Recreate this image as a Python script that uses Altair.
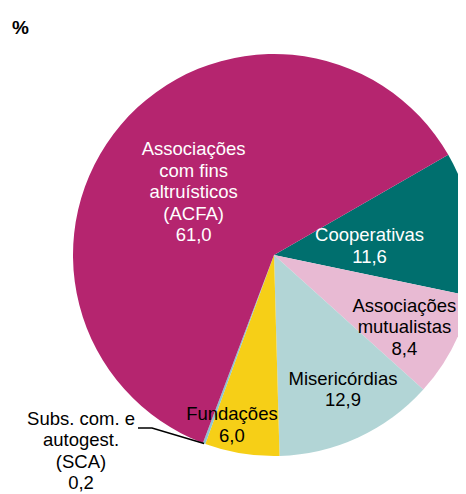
import math
import altair as alt
import pandas as pd

# ---- data ----
categories = ["Cooperativas", "Associações mutualistas", "Misericórdias",
              "Fundações", "Subs. com. e autogest. (SCA)",
              "Associações com fins altruísticos (ACFA)"]
values = [11.6, 8.4, 12.9, 6.0, 0.2, 61.0]
value_labels = ["11,6", "8,4", "12,9", "6,0", "0,2", "61,0"]
label_names = ["Cooperativas", "Associações\nmutualistas", "Misericórdias",
               "Fundações", "Subs. com. e\nautogest.\n(SCA)",
               "Associações\ncom fins\naltruísticos\n(ACFA)"]
colors = ["#006f6e", "#e8bad3", "#b2d5d6", "#f6cf17", "#8cc3d0", "#b5256f"]
text_colors = ["white", "black", "black", "black", "black", "white"]

# ---- layout ----
CX, CY, R = 266, 247, 201          # pie centre / radius in view coordinates
START = math.radians(60.1)          # start angle (clockwise from 12 o'clock)
LH = 21.5                           # label line height
label_angle_offset_deg = [3.6, 2.0, -2.4, 4.7, 24.2, -2.4]
label_radius = [96, 149, 151, 175, 275, 102]

total = sum(values)
labels_txt = [f"{n}\n{v}" for n, v in zip(label_names, value_labels)]
lx, ly = [], []
cum = 0.0
for v, off, r, t in zip(values, label_angle_offset_deg, label_radius, labels_txt):
    mid = cum + v / 2
    a = START + mid / total * 2 * math.pi + math.radians(off)
    nlines = t.count("\n") + 1
    lx.append(CX + r * math.sin(a))
    ly.append(CY - r * math.cos(a) - (nlines - 1) * LH / 2)
    cum += v

df = pd.DataFrame({
    "cat": categories,
    "value": values,
    "order": list(range(len(values))),
    "label": labels_txt,
    "tcolor": text_colors,
    "lx": lx,
    "ly": ly,
})

pie = alt.Chart(df).mark_arc(radius=R).encode(
    theta=alt.Theta("value:Q", stack=True,
                    scale=alt.Scale(range=[START, START + 2 * math.pi])),
    order=alt.Order("order:Q"),
    color=alt.Color("cat:N", scale=alt.Scale(domain=categories, range=colors),
                    legend=None),
    x=alt.value(CX), y=alt.value(CY),
)

labels = alt.Chart(df).mark_text(
    font="Liberation Sans", fontSize=18.5, lineBreak="\n", lineHeight=LH,
    align="center", baseline="middle",
).encode(
    x=alt.X("lx:Q", scale=None),
    y=alt.Y("ly:Q", scale=None),
    text="label:N",
    color=alt.Color("tcolor:N", scale=None),
)

# leader line for SCA: from label to the pie edge at the slice mid-angle
sca_i = 4
sca_mid = START + (sum(values[:sca_i]) + values[sca_i] / 2) / total * 2 * math.pi
ex = CX + R * math.sin(sca_mid)
ey = CY - R * math.cos(sca_mid)
leader_df = pd.DataFrame({
    "x": [130, 144, ex],
    "y": [420, 420, ey],
    "o": [0, 1, 2],
})
leader = alt.Chart(leader_df).mark_line(color="black", strokeWidth=1.6).encode(
    x=alt.X("x:Q", scale=None), y=alt.Y("y:Q", scale=None), order="o:Q"
)

pct = alt.Chart(pd.DataFrame({"t": ["%"]})).mark_text(
    font="Liberation Sans", fontSize=19, fontWeight="bold",
    align="left", baseline="middle", color="black",
).encode(x=alt.value(4), y=alt.value(20), text="t:N")

chart = alt.layer(pie, labels, leader, pct).properties(
    width=450, height=486, padding=0, autosize="none"
).configure_view(stroke=None)

chart.save("out.html", embed_options={"renderer": "svg", "actions": False})
